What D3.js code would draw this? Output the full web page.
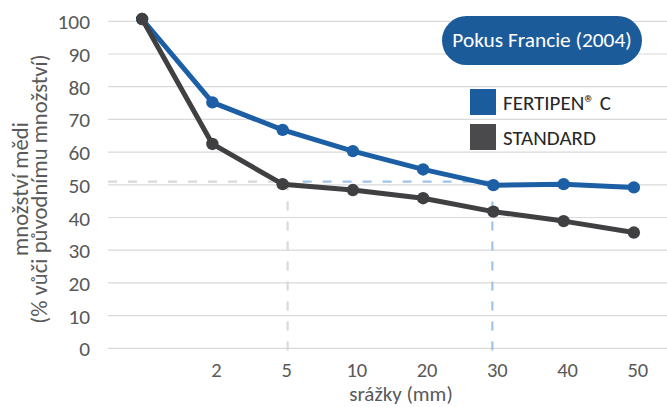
<!DOCTYPE html>
<html>
<head>
<meta charset="utf-8">
<script src="https://cdn.jsdelivr.net/npm/d3@7"></script>
<style>
  html, body { margin: 0; padding: 0; background: #fff; }
  svg { display: block; }
  text { font-family: Carlito, Lato, "Open Sans", sans-serif; }
</style>
</head>
<body>
<svg id="chart" width="667" height="407"></svg>
<script>
const categories = ["0", "2", "5", "10", "20", "30", "40", "50"];
const tickLabels = ["", "2", "5", "10", "20", "30", "40", "50"];
const fertipen = [100.7, 75.2, 66.8, 60.3, 54.7, 49.9, 50.2, 49.2];
const standard = [100.7, 62.5, 50.2, 48.4, 45.9, 41.8, 38.9, 35.4];
const yTicks = [0, 10, 20, 30, 40, 50, 60, 70, 80, 90, 100];
const seriesNames = ["FERTIPEN® C", "STANDARD"];
const refLevel = 51;
const refStandard = "5";
const refFertipen = "30";
const titleText = "Pokus Francie (2004)";
const yTitle = ["množství mědi", "(% vůči původnímu množství)"];
const xTitle = "srážky (mm)";

const blue = "#1c5fa5";
const dark = "#404042";

const svg = d3.select("#chart");
const x = d3.scalePoint().domain(categories).range([107, 669]).padding(0.5);
const y = d3.scaleLinear().domain([0, 100]).range([348.3, 21.3]);

// gridlines
svg.append("g").selectAll("line").data(yTicks).join("line")
  .attr("x1", 108).attr("x2", 667)
  .attr("y1", d => y(d)).attr("y2", d => y(d))
  .attr("stroke", "#d9d9d9").attr("stroke-width", 1.2);

// y tick labels
svg.append("g").selectAll("text").data(yTicks).join("text")
  .attr("x", 90).attr("y", d => y(d) + 8)
  .attr("text-anchor", "end")
  .attr("font-size", 21.33).attr("fill", "#595959")
  .text(d => d);

// x tick labels
svg.append("g").selectAll("text").data(categories).join("text")
  .attr("x", d => x(d) + 4).attr("y", 376.5)
  .attr("text-anchor", "middle")
  .attr("font-size", 20.5).attr("fill", "#595959")
  .text((d, i) => tickLabels[i]);

// reference dashed lines
const dash = "9,11";
svg.append("line")
  .attr("x1", 108).attr("x2", x(refStandard) + 5)
  .attr("y1", y(refLevel)).attr("y2", y(refLevel))
  .attr("stroke", "#d9d9d9").attr("stroke-width", 2.2).attr("stroke-dasharray", dash);
svg.append("line")
  .attr("x1", x(refStandard) + 5).attr("x2", x(refStandard) + 5)
  .attr("y1", y(refLevel)).attr("y2", y(0) + 9)
  .attr("stroke", "#d9d9d9").attr("stroke-width", 2.2).attr("stroke-dasharray", dash);
svg.append("line")
  .attr("x1", x(refStandard) + 20).attr("x2", x(refFertipen))
  .attr("y1", y(refLevel)).attr("y2", y(refLevel))
  .attr("stroke", "#9dc3e6").attr("stroke-width", 2.2).attr("stroke-dasharray", dash);
svg.append("line")
  .attr("x1", x(refFertipen) - 1).attr("x2", x(refFertipen) - 1)
  .attr("y1", y(refLevel)).attr("y2", y(0) + 9)
  .attr("stroke", "#9dc3e6").attr("stroke-width", 2.2).attr("stroke-dasharray", dash);

// series
const line = d3.line().x((d, i) => x(categories[i])).y(d => y(d));
function drawSeries(data, color) {
  const g = svg.append("g");
  g.append("path").datum(data).attr("d", line)
    .attr("fill", "none").attr("stroke", color).attr("stroke-width", 5)
    .attr("stroke-linejoin", "round");
  g.selectAll("circle").data(data).join("circle")
    .attr("cx", (d, i) => x(categories[i])).attr("cy", d => y(d))
    .attr("r", 6.2).attr("fill", color);
}
drawSeries(fertipen, blue);
drawSeries(standard, dark);

// title pill
svg.append("rect")
  .attr("x", 442).attr("y", 16).attr("width", 200).attr("height", 49)
  .attr("rx", 24.5).attr("ry", 24.5).attr("fill", "#1c5b9a");
svg.append("text")
  .attr("x", 542).attr("y", 47).attr("text-anchor", "middle")
  .attr("font-size", 21.33).attr("fill", "#ffffff")
  .text(titleText);

// legend
const legendColors = ["#1b5c9e", "#4a4a4d"];
const lg = svg.append("g");
seriesNames.forEach((name, i) => {
  lg.append("rect").attr("x", 470).attr("y", 89 + i * 35)
    .attr("width", 26).attr("height", 26).attr("fill", legendColors[i]);
  lg.append("text").attr("x", 503).attr("y", 109.5 + i * 35)
    .attr("font-size", 21).attr("fill", "#262626")
    .text(name);
});

// axis titles
const yt = svg.append("text")
  .attr("transform", "translate(0,189) rotate(-90)")
  .attr("text-anchor", "middle").attr("font-size", 22.7).attr("fill", "#595959");
yt.append("tspan").attr("x", 0).attr("y", 28).text(yTitle[0]);
yt.append("tspan").attr("x", 0).attr("y", 47).text(yTitle[1]);

svg.append("text")
  .attr("x", 401).attr("y", 401).attr("text-anchor", "middle")
  .attr("font-size", 21).attr("fill", "#595959")
  .text(xTitle);
</script>
</body>
</html>
